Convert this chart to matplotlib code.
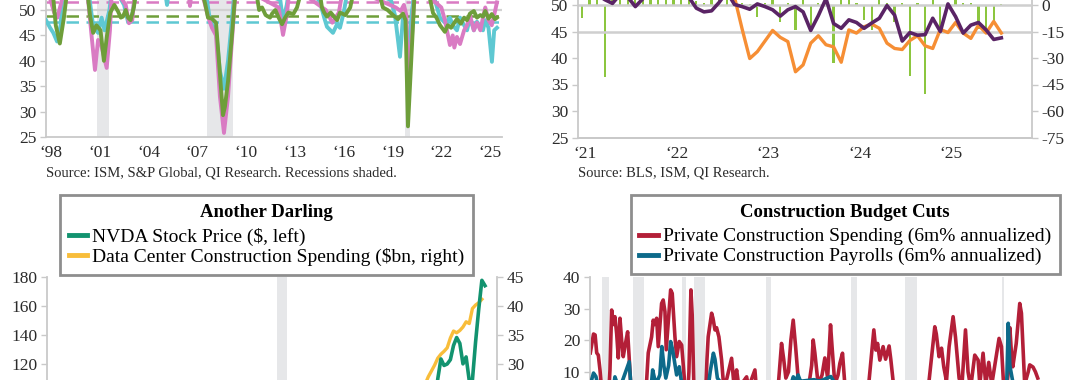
import matplotlib
matplotlib.use("Agg")
import matplotlib.pyplot as plt
from matplotlib.lines import Line2D

plt.rcParams['font.family'] = ['Liberation Serif', 'DejaVu Serif']
plt.rcParams['axes.unicode_minus'] = False

# ---------------- data: top-left (PMI-type diffusion indexes) ----------------
pink_pts = [(1998.0, 55), (1998.5, 49.5), (1998.7, 48.5), (1998.9, 51), (1999.2, 55), (2000.5, 55),
            (2000.8, 45), (2001.01, 38.2), (2001.2, 44.1), (2001.4, 43), (2001.73, 38.6), (2001.93, 46),
            (2002.06, 55), (2002.9, 51), (2003.1, 47.4), (2003.3, 48), (2003.5, 55), (2006.7, 55),
            (2006.85, 50.8), (2007.0, 55), (2007.7, 52), (2007.96, 48.7), (2008.2, 46.5), (2008.45, 45),
            (2008.69, 33), (2008.94, 25.8), (2009.19, 33), (2009.43, 44), (2009.68, 55), (2012.3, 50.5),
            (2012.57, 45.1), (2012.8, 49), (2013.0, 55), (2015.2, 50), (2015.6, 47.5), (2016.0, 49.5),
            (2016.3, 55), (2019.5, 50.5), (2019.8, 49.8), (2020.0, 51), (2020.15, 49), (2020.25, 36),
            (2020.5, 45), (2020.68, 55), (2022.3, 50.5), (2022.52, 48), (2022.83, 43.1), (2023.0, 45),
            (2023.1, 42.6), (2023.26, 44.7), (2023.45, 43.3), (2023.7, 46), (2023.88, 47), (2024.06, 49),
            (2024.3, 46), (2024.49, 47.5), (2024.7, 46), (2024.86, 48.5), (2025.0, 50.5), (2025.2, 48),
            (2025.4, 47), (2025.55, 49), (2025.72, 51.5)]
cyan_pts = [(1998.0, 48), (1998.25, 46.5), (1998.45, 45.5), (1998.68, 43.8), (1998.9, 47), (1999.05, 55),
            (2000.6, 54), (2000.89, 47), (2001.2, 45.5), (2001.42, 48.5), (2001.6, 46), (2001.9, 50),
            (2002.1, 55), (2002.8, 51), (2003.04, 47.7), (2003.3, 49), (2003.6, 55), (2005.3, 54),
            (2005.44, 51), (2005.6, 55), (2007.8, 54), (2008.1, 47.5), (2008.45, 46), (2008.69, 38),
            (2008.94, 34.5), (2009.19, 40), (2009.43, 48), (2009.62, 55), (2012.4, 52), (2012.57, 47.8),
            (2012.8, 51), (2013.0, 55), (2014.8, 52), (2015.1, 48.5), (2015.27, 46.7), (2015.64, 45.5),
            (2015.89, 47.2), (2016.07, 46.5), (2016.3, 49.5), (2016.6, 55), (2019.2, 52), (2019.45, 49),
            (2019.76, 40.8), (2019.94, 48.5), (2020.1, 49), (2020.25, 40), (2020.5, 50), (2020.7, 55),
            (2021.9, 52), (2022.22, 48.5), (2022.52, 47.5), (2022.83, 48.5), (2023.0, 47), (2023.26, 46),
            (2023.45, 48.5), (2023.7, 47), (2023.88, 46), (2024.06, 48.5), (2024.3, 46), (2024.49, 47.7),
            (2024.86, 46), (2025.0, 48), (2025.2, 46.5), (2025.41, 39.8), (2025.55, 46), (2025.72, 46.5)]
green_pts = [(1998.0, 55), (1998.4, 54), (1998.6, 47), (1998.85, 43.4), (1999.1, 48.5), (1999.35, 55),
             (2000.5, 55), (2000.7, 49), (2000.9, 45.5), (2001.1, 47), (2001.35, 46), (2001.56, 40),
             (2001.75, 45), (2001.95, 49.5), (2002.2, 51), (2002.43, 49.7), (2002.6, 48.5), (2002.73, 48.7),
             (2002.9, 50), (2003.04, 48.5), (2003.2, 48), (2003.4, 50.5), (2003.6, 55), (2007.5, 55),
             (2007.8, 51), (2007.96, 48.5), (2008.2, 48.3), (2008.45, 47.5), (2008.63, 40), (2008.88, 29.3),
             (2009.0, 31), (2009.19, 36), (2009.43, 45), (2009.68, 55), (2010.9, 54), (2011.1, 50),
             (2011.28, 50.5), (2011.5, 49), (2011.77, 48.5), (2011.9, 49.3), (2012.1, 50), (2012.3, 48.5),
             (2012.51, 47.2), (2012.7, 48.5), (2012.9, 49.5), (2013.2, 49.2), (2013.43, 50.5), (2013.8, 55),
             (2014.8, 54), (2014.96, 50.5), (2015.1, 49.5), (2015.27, 48.7), (2015.5, 49.5), (2015.89, 48),
             (2016.07, 49.5), (2016.4, 49), (2016.7, 50.5), (2017.0, 55), (2018.34, 55), (2018.71, 50.5),
             (2019.0, 50), (2019.33, 49), (2019.64, 48.2), (2019.94, 49.3), (2020.1, 48), (2020.25, 27.1),
             (2020.45, 40), (2020.68, 55), (2021.42, 55), (2021.79, 49.4), (2022.0, 48.5), (2022.22, 47),
             (2022.52, 45.7), (2022.7, 47), (2022.9, 46.5), (2023.1, 47.5), (2023.26, 48.2), (2023.5, 47.3),
             (2023.7, 48.5), (2023.88, 48), (2024.06, 49.3), (2024.3, 49.8), (2024.49, 48.5), (2024.7, 49),
             (2024.86, 48.7), (2025.0, 49.8), (2025.2, 48.3), (2025.4, 49.2), (2025.6, 48.2), (2025.72, 48.5)]
ref_levels = {'pink': 51.5, 'green': 48.8, 'cyan': 47.7}
tl_recessions = [(2001.15, 2001.89), (2007.88, 2009.47), (2020.07, 2020.37)]
tl_years = [1998, 2001, 2004, 2007, 2010, 2013, 2016, 2019, 2022, 2025]

# ---------------- data: top-right (monthly from Dec-2020, month index -1) ----------------
tr_first_month = -1
payroll_bars = [-7.4, 8, 8, -41, 8, 8, 8, 8, 8, 8, 8, 8, 8, 8, 8, 2, 1, 6, 5, 6, 4, 1, 0.5, -6.6,
                1, 5, -9.4, 1, -14.2, 5, -14.2, 1, 0.5, -32.8, 6, 6, 1, -8.5, -14.2, 6, 1, -9.4,
                1, -40.2, 1, -50.4, 6, -14.2, 1, 6, 1, 1, -13.6, -15.1, -10, 0.5]
purple_line = [51.5, 54, 52, 51, 50.3, 52, 51.5, 49.7, 51.2, 52.5, 53, 54, 53, 52, 51.5, 49.4, 48.7,
               48.9, 50.5, 52.5, 50.1, 49.7, 49.2, 50.2, 49.7, 49.1, 47.9, 49.1, 49.7, 48.7, 45.2,
               48.0, 51.2, 46.5, 45.6, 47.2, 46.7, 45.6, 46.6, 47.5, 49.9, 48.1, 43.2, 44.8, 44.3,
               44.4, 47.5, 45.0, 50.2, 47.8, 44.7, 46.2, 46.7, 45.3, 43.5, 43.8]
orange_first_month = 19
orange_line = [51.5, 45.5, 39.9, 41.2, 43.2, 45.2, 43.9, 43.1, 37.4, 38.7, 42.8, 44.2, 42.5, 42.1, 39.2,
               45.3, 44.7, 45.9, 46.4, 45.6, 42.8, 41.8, 41.6, 43.3, 44.2, 42.3, 41.8, 45.4, 44.8,
               46.7, 44.7, 43.7, 46.2, 44.7, 46.9, 44.7]
tr_labels = ['\u201821', '\u201822', '\u201823', '\u201824', '\u201825']

# ---------------- data: bottom-left ----------------
nvda_pts = [(2014.0, 0.5), (2015.0, 0.5), (2016.0, 0.8), (2017.0, 2.7), (2018.0, 4.9), (2018.75, 7.0),
            (2019.0, 3.4), (2020.0, 5.9), (2020.5, 9.5), (2021.0, 13.0), (2021.9, 32.6), (2022.0, 29.4),
            (2022.75, 12.1), (2023.0, 19.5), (2023.5, 42.3), (2024.0, 61.5), (2024.083, 79.1),
            (2024.167, 90.4), (2024.25, 86.4), (2024.333, 109.6), (2024.417, 123.5), (2024.5, 119),
            (2024.583, 120), (2024.667, 123), (2024.75, 132.8), (2024.833, 138.3), (2024.917, 134.3),
            (2025.0, 120.1), (2025.083, 124.9), (2025.167, 108.4), (2025.25, 108.9), (2025.333, 135.1),
            (2025.417, 158.0), (2025.5, 177.9), (2025.583, 174.2)]
dc_pts = [(2014.0, 1.4), (2016.0, 2.0), (2018.0, 3.5), (2020.0, 7.0), (2021.0, 9.0), (2022.0, 13.0),
          (2023.0, 20.0), (2023.5, 22.0), (2024.0, 26.5), (2024.083, 27.8), (2024.167, 28.8),
          (2024.25, 29.8), (2024.333, 31.0), (2024.417, 31.7), (2024.5, 32.2), (2024.583, 32.8),
          (2024.667, 34.5), (2024.75, 35.7), (2024.833, 35.4), (2024.917, 35.8), (2025.0, 36.4),
          (2025.083, 37.3), (2025.167, 37.0), (2025.25, 39.6), (2025.333, 40.2), (2025.417, 40.6),
          (2025.5, 41.2)]
bl_recessions = [(2020.08, 2020.35)]

# ---------------- data: bottom-right ----------------
spend_pts = [(1968.5, 16), (1968.9, 22), (1969.1, 21.7), (1969.3, 16), (1969.5, 15.3), (1969.71, 10.6),
             (1970.0, 2), (1970.5, -5), (1970.8, 3), (1970.96, 10.6), (1971.17, 29.6), (1971.4, 25),
             (1971.58, 27.5), (1971.8, 22), (1972.0, 14.4), (1972.21, 27), (1972.42, 20), (1972.62, 14.8),
             (1972.9, 19), (1973.17, 22.7), (1973.37, 14.4), (1973.58, 5), (1974.0, -10), (1974.5, -15),
             (1975.0, -8), (1975.3, 2), (1975.55, 7.4), (1975.75, 16), (1976.17, 21.1), (1976.37, 26.4),
             (1976.55, 25), (1976.8, 27), (1977.0, 18), (1977.42, 31.7), (1977.62, 32.8), (1977.84, 29.1),
             (1978.0, 17), (1978.2, 24), (1978.55, 36), (1978.75, 34.9), (1979.09, 21.1), (1979.3, 14.8),
             (1979.63, 19.6), (1979.93, 18.5), (1980.25, 8.4), (1980.5, -5), (1980.84, 10), (1981.09, 36),
             (1981.25, 28), (1981.46, 5), (1981.8, -5), (1982.5, -8), (1982.96, 5), (1983.1, 14),
             (1983.25, 21.1), (1983.68, 28.6), (1983.85, 27), (1984.1, 23.3), (1984.3, 24), (1984.59, 21.1),
             (1984.93, 13.7), (1985.2, 5), (1985.6, 8), (1986.18, 14.3), (1986.47, 6), (1986.81, 10.6),
             (1987.1, 5), (1988.06, 8.4), (1988.3, 5), (1989.1, 10.6), (1989.3, 4), (1990.0, 0),
             (1991.0, -10), (1992.0, 5), (1992.43, 19.0), (1992.7, 14), (1992.97, 8), (1993.3, 10),
             (1993.6, 20.1), (1993.89, 26.4), (1994.19, 18), (1994.6, 5), (1995.3, 0), (1995.8, 5),
             (1996.2, 12), (1996.39, 20.1), (1996.6, 16), (1997.01, 6), (1997.5, 9), (1997.85, 14.4),
             (1998.2, 8), (1998.56, 24.9), (1998.75, 18), (1999.1, 6), (1999.5, 9), (1999.73, 12.7),
             (2000.06, 15.9), (2000.35, 6), (2000.8, 0), (2001.5, -3), (2002.5, 0), (2003.3, 5),
             (2003.98, 23.3), (2004.23, 16.9), (2004.45, 19), (2004.73, 13.7), (2005.14, 18), (2005.45, 14),
             (2005.89, 18.2), (2006.1, 14), (2006.48, 5), (2007.0, -5), (2008.0, -15), (2009.0, -25),
             (2010.0, -10), (2010.8, 5), (2011.61, 24.3), (2011.8, 22), (2012.14, 14.8), (2012.45, 17.5),
             (2012.73, 11.6), (2013.07, 7), (2013.4, 18), (2013.9, 27.5), (2014.2, 21), (2014.65, 8),
             (2014.99, 5), (2015.45, 23.3), (2015.77, 10), (2016.1, 5), (2016.61, 15.3), (2017.03, 13.7),
             (2017.24, 6), (2017.65, 15.9), (2017.99, 6), (2018.36, 13), (2018.74, 6), (2019.24, 14),
             (2019.65, 20.6), (2019.95, 18), (2020.24, 5), (2020.6, 5), (2020.9, 12), (2021.0, 24),
             (2021.2, 16), (2021.37, 11.6), (2021.8, 19), (2022.24, 31.7), (2022.45, 28.6), (2022.7, 15),
             (2022.86, 6), (2023.3, 10), (2023.49, 12.2), (2023.9, 11.5), (2024.2, 10), (2024.49, 8)]
payroll_pts = [(1968.5, 6), (1968.9, 9.6), (1969.2, 8.5), (1969.6, 4), (1970.5, -8), (1971.0, 0),
               (1971.4, 5), (1971.58, 8.4), (1971.9, 6), (1972.5, 7), (1973.37, 13.2), (1973.6, 5),
               (1974.5, -10), (1975.3, -12), (1976.0, 2), (1976.3, 10.6), (1976.7, 6), (1977.2, 9),
               (1977.45, 18), (1977.7, 12), (1977.95, 8), (1978.3, 12), (1978.55, 19.6), (1978.8, 17),
               (1979.3, 9), (1979.63, 11.6), (1979.9, 7), (1980.5, -5), (1981.0, 0), (1981.5, -3),
               (1982.5, -12), (1983.0, 0), (1983.5, 10), (1983.9, 15.9), (1984.1, 14), (1984.4, 8),
               (1985.0, 6), (1988.0, 4), (1990.5, -5), (1991.0, -10), (1992.0, -2), (1993.5, 5),
               (1993.9, 8.4), (1994.2, 7), (1994.5, 9), (1994.8, 7), (1996.5, 7.5), (1997.2, 7),
               (1998.6, 8.5), (1999.2, 6), (2000.0, 5), (2001.5, 0), (2003.0, 2), (2005.0, 6), (2006.0, 6),
               (2007.0, 0), (2008.0, -10), (2009.0, -18), (2010.0, -5), (2012.0, 2), (2013.0, 5),
               (2014.0, 6), (2019.0, 4), (2020.3, -40), (2020.6, 5), (2020.8, 25.4), (2021.0, 12),
               (2021.5, 5), (2022.0, 5), (2023.0, 3), (2024.0, 3)]
br_recessions = [(1969.92, 1970.83), (1973.83, 1975.17), (1980.0, 1980.5), (1981.5, 1982.83),
                 (1990.5, 1991.17), (2001.17, 2001.83), (2007.92, 2009.42), (2020.08, 2020.25)]

# ---------------- styling ----------------
PINK, CYAN, GREEN = '#d97bc3', '#5ec8d2', '#6e9e3a'
LIME, ORANGE, PURPLE = '#8cc63f', '#f68e34', '#5a2465'
NVDA_C, DC_C = '#12936f', '#f8bd3a'
RED, BLUE = '#b31f38', '#0d6a8a'
SHADE, AXC, TXT = '#e6e7e9', '#c9c9c9', '#2b2b2b'
TICK_FS, SRC_FS, LEG_FS, LEG_TITLE_FS = 12.5, 10.5, 14, 13.5

fig = plt.figure(figsize=(10.8, 3.8), dpi=100)


def px_axes(x0, x1, y_top, y_bot):
    return fig.add_axes([x0 / 1080, 1 - y_bot / 380, (x1 - x0) / 1080, (y_bot - y_top) / 380])


def style(ax, left=True, right=False, bottom=True):
    ax.spines['top'].set_visible(False)
    ax.spines['left'].set_visible(left)
    ax.spines['right'].set_visible(right)
    ax.spines['bottom'].set_visible(bottom)
    for s in ax.spines.values():
        s.set_color(AXC)
        s.set_linewidth(1.3)
    ax.tick_params(colors=AXC, labelcolor=TXT, labelsize=TICK_FS, length=4, width=1, pad=3)
    ax.patch.set_visible(False)


def split(pts):
    return [p[0] for p in pts], [p[1] for p in pts]


def box_legend(ax, colors, labels, title, x0):
    handles = [Line2D([], [], color=c, lw=3.5) for c in colors]
    leg = ax.legend(handles, labels, title=title, loc='upper left',
                    bbox_to_anchor=(x0 / 1080, 1 - 195 / 380), bbox_transform=fig.transFigure,
                    borderaxespad=0, fontsize=LEG_FS, title_fontsize=LEG_TITLE_FS,
                    handlelength=0.95, handletextpad=0.25, labelspacing=0.12, borderpad=0.45,
                    fancybox=False, framealpha=1, edgecolor='#8e8e8e')
    leg.get_title().set_fontweight('bold')
    leg.get_frame().set_linewidth(2)
    leg._legend_box.sep = 5  # a bit more room under the title
    return leg


# ---- top-left ----
ax = px_axes(46, 502, -40.8, 137)
style(ax)
for a, b in tl_recessions:
    ax.axvspan(a, b, color=SHADE, lw=0, zorder=0)
ax.axhline(50, color='#d2d2d2', lw=1.6, zorder=1)
for key, col in [('pink', PINK), ('green', GREEN), ('cyan', CYAN)]:
    ax.axhline(ref_levels[key], color=col, lw=1.8, ls=(0, (5, 3)), zorder=2)
for pts, col in [(cyan_pts, CYAN), (pink_pts, PINK), (green_pts, GREEN)]:
    x, y = split(pts)
    ax.plot(x, y, color=col, lw=2.8, zorder=3, solid_joinstyle='round')
ax.set_xlim(1998.0, 2026.03)
ax.set_ylim(25, 60)
ax.set_yticks([25, 30, 35, 40, 45, 50])
ax.set_xticks([yr + 0.3 for yr in tl_years])
ax.set_xticklabels(['\u2018%02d' % (yr % 100) for yr in tl_years])
ax.tick_params(axis='x', length=0, pad=6)
fig.text(46 / 1080, 1 - 173 / 380, 'Source: ISM, S&P Global, QI Research. Recessions shaded.',
         fontsize=SRC_FS, color=TXT, va='center')

# ---- top-right ----
axr = px_axes(578, 1032, -48, 137.5)
axl = axr.twinx()
style(axr, left=False, right=True)
axr.yaxis.tick_right()
style(axl, left=True, right=False)
axl.yaxis.tick_left()
axl.set_zorder(axr.get_zorder() + 1)
mb = [tr_first_month + i + 0.6 for i in range(len(payroll_bars))]
axr.bar(mb, payroll_bars, width=0.3, color=LIME, zorder=2)
axr.set_ylim(-75, 30)
axr.set_yticks([-75, -60, -45, -30, -15, 0])
axl.axhline(50, color='#cfcfcf', lw=1.8, zorder=1)
axl.axhline(45, color='#cfcfcf', lw=1.8, zorder=1)
mp = [tr_first_month + i + 0.6 for i in range(len(purple_line))]
mo = [orange_first_month + i + 0.6 for i in range(len(orange_line))]
axl.plot(mo, orange_line, color=ORANGE, lw=2.4, zorder=3)
axl.plot(mp, purple_line, color=PURPLE, lw=2.6, zorder=4)
axl.set_ylim(25, 60)
axl.set_yticks([25, 30, 35, 40, 45, 50])
for a in (axl, axr):
    a.set_xlim(-0.92, 58.62)
axr.set_xticks([0, 12, 24, 36, 48])
axr.set_xticklabels(tr_labels)
axr.tick_params(axis='x', length=0, pad=6)
axl.tick_params(axis='x', bottom=False, labelbottom=False)
fig.text(578 / 1080, 1 - 173 / 380, 'Source: BLS, ISM, QI Research.',
         fontsize=SRC_FS, color=TXT, va='center')

# ---- bottom-left ----
bl_r = px_axes(47, 497, 277.3, 537.4)
bl_l = bl_r.twinx()
style(bl_r, left=False, right=True, bottom=False)
bl_r.yaxis.tick_right()
style(bl_l, left=True, right=False, bottom=False)
bl_l.yaxis.tick_left()
bl_l.set_zorder(bl_r.get_zorder() + 1)
for a, b in bl_recessions:
    bl_r.axvspan(a, b, color=SHADE, lw=0, zorder=0)
x, y = split(dc_pts)
bl_r.plot(x, y, color=DC_C, lw=2.4)
x, y = split(nvda_pts)
bl_l.plot(x, y, color=NVDA_C, lw=2.6)
bl_l.set_ylim(0, 180)
bl_r.set_ylim(0, 45)
bl_l.set_yticks([120, 140, 160, 180])
bl_r.set_yticks([30, 35, 40, 45])
for a in (bl_l, bl_r):
    a.set_xlim(2014.0, 2025.9)
    a.tick_params(axis='x', bottom=False, labelbottom=False)
box_legend(bl_l, [NVDA_C, DC_C],
           ['NVDA Stock Price ($, left)', 'Data Center Construction Spending ($bn, right)'],
           'Another Darling', 60)

# ---- bottom-right ----
br = px_axes(590, 1045, 277.3, 529.3)
style(br, bottom=False)
for a, b in br_recessions:
    br.axvspan(a, b, color=SHADE, lw=0, zorder=0)
x, y = split(spend_pts)
br.plot(x, y, color=RED, lw=2.6, zorder=2)
x, y = split(payroll_pts)
br.plot(x, y, color=BLUE, lw=2.6, zorder=3)
br.set_xlim(1968.46, 2025.4)
br.set_ylim(-40, 40)
br.set_yticks([10, 20, 30, 40])
br.tick_params(axis='x', bottom=False, labelbottom=False)
for lab in br.get_yticklabels():
    lab.set_verticalalignment('center_baseline')
box_legend(br, [RED, BLUE],
           ['Private Construction Spending (6m% annualized)',
            'Private Construction Payrolls (6m% annualized)'],
           'Construction Budget Cuts', 630.5)

fig.savefig('out.png', dpi=100)
